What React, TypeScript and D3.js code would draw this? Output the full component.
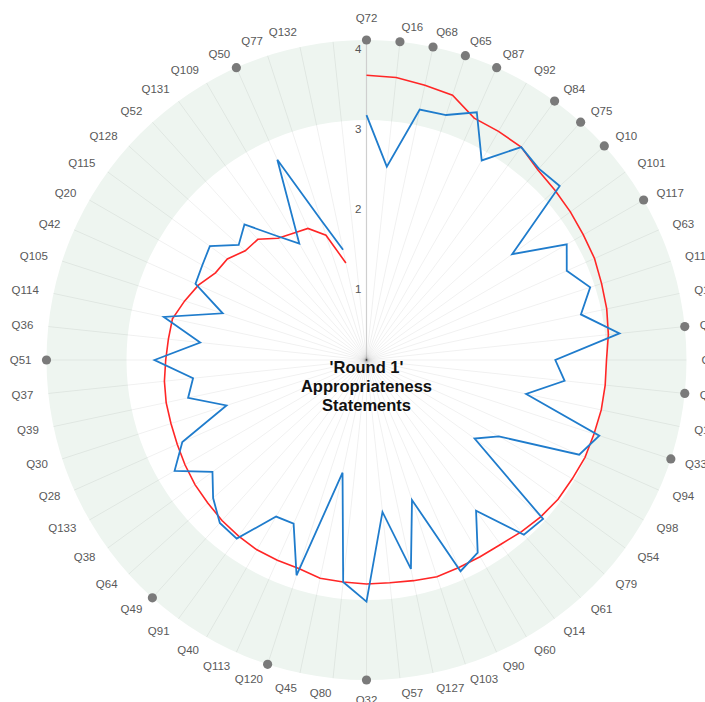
import React from "react";
import * as d3 from "d3";

const categories = ["Q72","Q16","Q68","Q65","Q87","Q92","Q84","Q75","Q10","Q101","Q117","Q63","Q118","Q19","Q8","Q9","Q3","Q12","Q33","Q94","Q98","Q54","Q79","Q61","Q14","Q60","Q90","Q103","Q127","Q57","Q32","Q80","Q45","Q120","Q113","Q40","Q91","Q49","Q64","Q38","Q133","Q28","Q30","Q39","Q37","Q51","Q36","Q114","Q105","Q42","Q20","Q115","Q128","Q52","Q131","Q109","Q50","Q77","Q132"];

const blueValues = [3.06,2.43,3.20,3.22,3.39,2.88,3.29,3.22,3.25,2.25,2.89,2.74,2.94,2.74,3.18,2.36,2.49,2.04,3.06,2.91,1.91,1.67,2.97,2.94,2.33,2.78,2.89,1.84,2.67,1.91,3.02,2.79,1.44,2.83,2.24,2.26,2.76,2.74,2.58,2.38,2.77,2.52,1.84,2.28,2.18,2.65,2.09,2.59,1.89,2.34,2.37,2.42,2.15,2.28,1.92,1.68,2.74,1.84,1.41];

const redValues = [3.56,3.55,3.51,3.48,3.31,3.30,3.29,3.20,3.17,3.15,3.13,3.12,3.09,3.07,3.04,3.00,3.00,3.00,2.99,2.99,2.97,2.96,2.93,2.89,2.85,2.84,2.84,2.85,2.82,2.80,2.80,2.79,2.79,2.74,2.74,2.74,2.72,2.70,2.67,2.65,2.62,2.59,2.57,2.56,2.54,2.51,2.49,2.48,2.39,2.30,2.18,2.15,2.04,2.03,1.88,1.83,1.80,1.64,1.24];

const flagged = ["Q72","Q16","Q68","Q65","Q87","Q84","Q75","Q10","Q117","Q8","Q3","Q33","Q32","Q120","Q49","Q51","Q50"];

const tickValues = [1, 2, 3, 4];
const titleLines = ["'Round 1'", "Appropriateness", "Statements"];

const SLOTS = 60;
const W = 705, H = 702;
const CX = 366.5, CY = 360;

export default function App() {
  const r = d3.scaleLinear().domain([0, 4]).range([0, 320]);
  const angle = d3.scaleLinear().domain([0, SLOTS]).range([0, 2 * Math.PI]);
  const band = d3.arc()({ innerRadius: r(3), outerRadius: r(4), startAngle: 0, endAngle: 2 * Math.PI } as any) || "";
  const line = d3.lineRadial<number>()
    .angle((_, i) => angle(i))
    .radius((v) => r(v));
  const slots = d3.range(SLOTS);
  const labelR = 335;
  const font = "'Liberation Sans', Arial, sans-serif";

  return (
    <svg width={W} height={H} style={{ position: "fixed", left: 0, top: 0, background: "#fff" }}>
      <g transform={`translate(${CX},${CY})`}>
        <path d={band} fill="#eef5f0" />
        {slots.map((i) => {
          const a = angle(i);
          return (
            <line key={i} x1={0} y1={0} x2={r(4) * Math.sin(a)} y2={-r(4) * Math.cos(a)}
              stroke={i === 0 ? "#cfcfcf" : "rgba(0,0,0,0.075)"} strokeWidth={i === 0 ? 1.2 : 0.8} />
          );
        })}
        {tickValues.map((t) => (
          <text key={t} x={-5} y={-r(t) + 12.5} textAnchor="end" fontSize={11.5} fill="#555" fontFamily={font}>{t}</text>
        ))}
        <path d={line(redValues) || ""} fill="none" stroke="#ff2626" strokeWidth={1.6} />
        <path d={line(blueValues) || ""} fill="none" stroke="#1f7ccc" strokeWidth={1.8} strokeLinejoin="miter" />
        {categories.map((c, i) => {
          const a = angle(i);
          const s = Math.sin(a), co = Math.cos(a);
          const px = labelR * s, py = -labelR * co;
          let anchor = "middle";
          if (Math.abs(s) >= 0.05) anchor = s > 0 ? "start" : "end";
          let y = py + 4;
          if (Math.abs(s) < 0.05) y = co > 0 ? py - 3 : py + 9;
          return (
            <text key={c} x={px} y={y} textAnchor={anchor} fontSize={11.5} fill="#595959" fontFamily={font}>{c}</text>
          );
        })}
        {categories.map((c, i) => flagged.includes(c) ? (
          <circle key={"d" + c} cx={r(4) * Math.sin(angle(i))} cy={-r(4) * Math.cos(angle(i))} r={4.6} fill="#7a7a7a" />
        ) : null)}
        {titleLines.map((t, k) => (
          <text key={t} x={0} y={12.5 + k * 19} textAnchor="middle" fontSize={16.5} fontWeight="bold" fill="#111" fontFamily={font}>{t}</text>
        ))}
      </g>
    </svg>
  );
}
